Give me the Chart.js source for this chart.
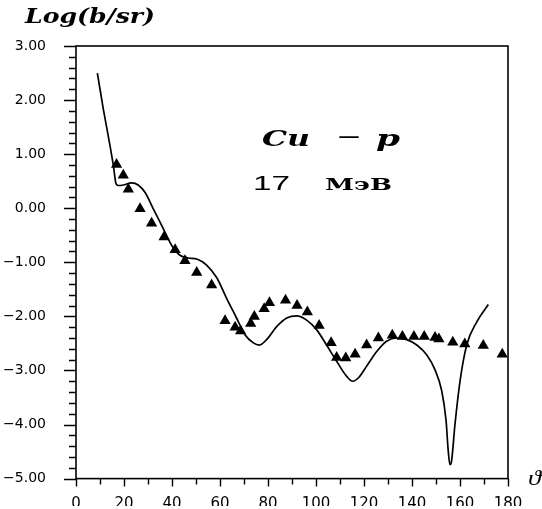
<!DOCTYPE html>
<html><head><meta charset="utf-8">
<script src="https://cdn.jsdelivr.net/npm/chart.js@4/dist/chart.umd.min.js"></script>
<style>html,body{margin:0;padding:0;background:#fff}#wrap{width:542px;height:509px}</style>
</head><body><div id="wrap"><canvas id="c" width="542" height="509"></canvas></div>
<script>
// Experimental points (triangles): angle (deg), log cross-section
const expAngles = [16.9, 19.7, 21.8, 26.7, 31.5, 36.7, 41.3, 45.4, 50.3, 56.5,
  62.1, 66.3, 68.6, 72.8, 74.3, 78.4, 80.6, 87.3, 92.1, 96.4, 101.3, 106.3, 108.6,
  112.4, 116.3, 121.1, 126.0, 131.8, 136.0, 140.8, 145.1, 149.6, 151.2, 157.0, 162.0,
  169.7, 177.6];
const expValues = [0.81, 0.61, 0.35, -0.01, -0.28, -0.53, -0.77, -0.97, -1.19, -1.42,
  -2.08, -2.20, -2.27, -2.13, -2.00, -1.86, -1.75, -1.70, -1.80, -1.92, -2.17, -2.49, -2.76,
  -2.77, -2.70, -2.53, -2.40, -2.35, -2.37, -2.37, -2.37, -2.39, -2.42, -2.48, -2.51,
  -2.54, -2.70];
// Theoretical curve
const theoryAngles = [8.9, 11.4, 14.2, 15.6, 16.7, 17.6, 19.7, 23.2, 25.9, 28.8, 32.2,
  36.4, 39.9, 43.3, 46.8, 50.3, 54.4, 58.6, 62.8, 66.9, 70.4, 73.9, 76.4, 79.4, 83.6,
  87.8, 92.0, 96.1, 100.3, 104.4, 108.6, 112.8, 115.3, 117.6, 121.1, 125.3, 129.4,
  133.6, 137.8, 142.0, 146.1, 149.6, 152.4, 154.2, 155.1, 155.8, 156.5, 157.9, 160.0,
  162.8, 167.0, 171.8];
const theoryValues = [2.50, 1.83, 1.15, 0.78, 0.45, 0.42, 0.43, 0.47, 0.43, 0.29, -0.01,
  -0.38, -0.69, -0.87, -0.92, -0.94, -1.05, -1.28, -1.67, -2.03, -2.34, -2.49, -2.53, -2.43, -2.19,
  -2.03, -1.99, -2.07, -2.25, -2.53, -2.83, -3.11, -3.20, -3.14, -2.92, -2.65, -2.46,
  -2.40, -2.43, -2.53, -2.71, -2.99, -3.38, -3.93, -4.49, -4.74, -4.67, -4.00, -3.20,
  -2.53, -2.10, -1.78];
const xTicks = [0, 20, 40, 60, 80, 100, 120, 140, 160, 180];
const yTicks = [-5, -4, -3, -2, -1, 0, 1, 2, 3];

const fmtY = v => (v < 0 ? '\u2212' : '') + Math.abs(v).toFixed(2);

function drawScaled(ctx, text, x, y, font, width) {
  ctx.save();
  ctx.font = font;
  ctx.textBaseline = 'alphabetic';
  ctx.textAlign = 'left';
  const w = ctx.measureText(text).width;
  ctx.translate(x, y);
  ctx.scale(width / w, 1);
  ctx.fillStyle = '#000';
  ctx.fillText(text, 0, 0);
  ctx.restore();
}

const framePlugin = {
  id: 'frame',
  afterDraw(chart) {
    const ctx = chart.ctx, a = chart.chartArea;
    const xs = chart.scales.x, ys = chart.scales.y;
    ctx.save();
    ctx.strokeStyle = '#000';
    ctx.lineWidth = 1.6;
    ctx.strokeRect(a.left, a.top, a.right - a.left, a.bottom - a.top);
    ctx.lineWidth = 1.4;
    ctx.beginPath();
    for (let k = 0; k <= 40; k++) {
      const v = -5 + k * 0.2;
      const py = Math.round(ys.getPixelForValue(v)) + 0.5;
      const major = k % 5 === 0;
      ctx.moveTo(a.left, py);
      ctx.lineTo(a.left - (major ? 12 : 7), py);
    }
    for (let k = 0; k <= 18; k++) {
      const px = Math.round(xs.getPixelForValue(k * 10)) + 0.5;
      ctx.moveTo(px, a.bottom);
      ctx.lineTo(px, a.bottom + (k % 2 === 0 ? 8 : 6));
    }
    ctx.stroke();
    ctx.restore();
    // texts
    drawScaled(ctx, 'Log(b/sr)', 25, 23, 'bold italic 20px "DejaVu Serif"', 130);
    drawScaled(ctx, 'Cu', 262, 146, 'bold italic 23px "DejaVu Serif"', 48);
    drawScaled(ctx, '\u2013', 337, 144, '24px "DejaVu Sans"', 24);
    drawScaled(ctx, 'p', 376, 146, 'bold italic 23px "DejaVu Serif"', 24);
    drawScaled(ctx, '17', 253, 190, '21px "Liberation Sans"', 37);
    drawScaled(ctx, 'МэВ', 325, 190, 'bold 16px "DejaVu Serif"', 67);
    drawScaled(ctx, '\u03D1', 528, 485, 'italic 22px "Liberation Serif"', 13);
  }
};

new Chart(document.getElementById('c'), {
  type: 'scatter',
  data: {
    datasets: [
      {
        label: 'theory',
        data: theoryAngles.map((x, i) => ({x, y: theoryValues[i]})),
        showLine: true,
        borderColor: '#000',
        borderWidth: 1.7,
        pointRadius: 0,
        cubicInterpolationMode: 'monotone',
        fill: false,
        order: 2
      },
      {
        label: 'experiment',
        data: expAngles.map((x, i) => ({x, y: expValues[i]})),
        showLine: false,
        pointStyle: 'triangle',
        pointRadius: 6.5,
        backgroundColor: '#000',
        borderColor: '#000',
        borderWidth: 0,
        order: 1
      }
    ]
  },
  options: {
    responsive: false,
    animation: false,
    devicePixelRatio: 1,
    layout: {padding: {top: 46, right: 34, left: 0, bottom: 0}},
    plugins: {legend: {display: false}, tooltip: {enabled: false}},
    scales: {
      x: {
        type: 'linear', min: 0, max: 180, position: 'bottom',
        grid: {display: false},
        border: {display: false},
        afterBuildTicks: s => { s.ticks = xTicks.map(v => ({value: v})); },
        afterFit: s => { s.height = 27.5; },
        ticks: {
          color: '#000', padding: 9, maxRotation: 0, autoSkip: false,
          font: {family: 'DejaVu Sans', size: 15},
          callback: v => String(v)
        }
      },
      y: {
        type: 'linear', min: -5, max: 3,
        grid: {display: false},
        border: {display: false},
        afterBuildTicks: s => { s.ticks = yTicks.map(v => ({value: v})); },
        afterFit: s => { s.width = 76; },
        ticks: {
          color: '#000', padding: 22, autoSkip: false,
          font: {family: 'DejaVu Sans', size: 14},
          callback: v => fmtY(v)
        }
      }
    }
  },
  plugins: [framePlugin]
});
</script>
</body></html>
